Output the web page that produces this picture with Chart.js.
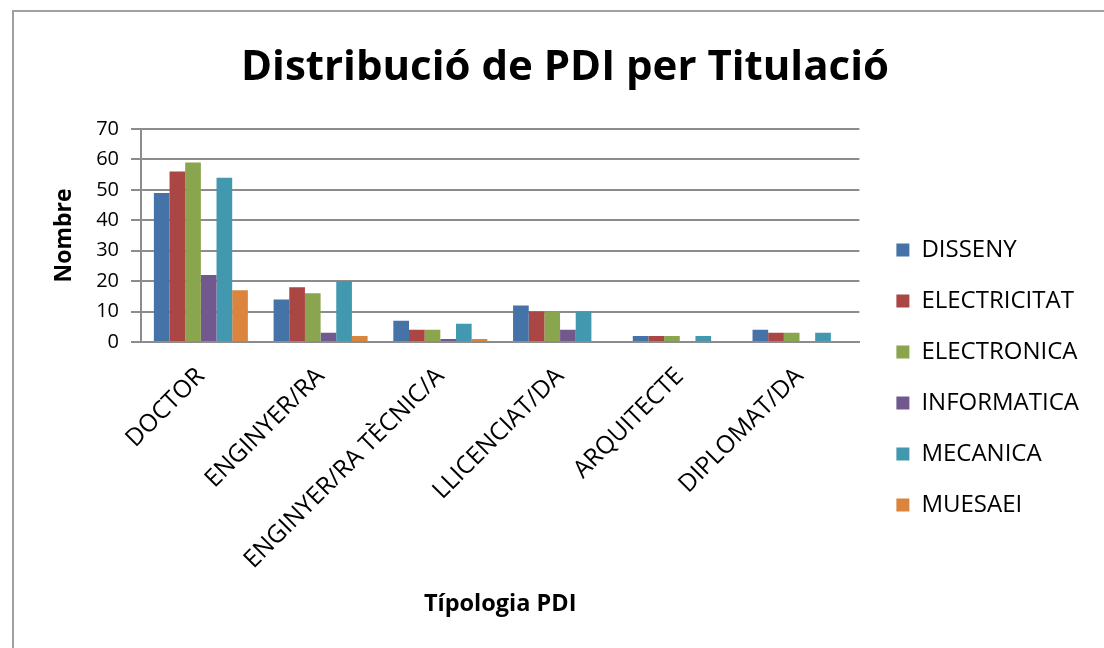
<!DOCTYPE html>
<html>
<head>
<meta charset="utf-8">
<script src="https://cdn.jsdelivr.net/npm/chart.js@4.4.0/dist/chart.umd.min.js"></script>
<style>
  html, body { margin: 0; padding: 0; background: #fff; }
  #frame { position: absolute; left: 12px; top: 10px; width: 1100px; height: 650px;
           border-left: 2px solid #a0a0a0; border-top: 2px solid #a0a0a0; }
  #wrap { position: absolute; left: 0; top: 0; width: 1104px; height: 648px; }
</style>
</head>
<body>
<div id="frame"></div>
<div id="wrap"><canvas id="pdiChart"></canvas></div>
<script>
const categories = ['DOCTOR', 'ENGINYER/RA', 'ENGINYER/RA TÈCNIC/A', 'LLICENCIAT/DA', 'ARQUITECTE', 'DIPLOMAT/DA'];
const disseny      = [49, 14, 7, 12, 2, 4];
const electricitat = [56, 18, 4, 10, 2, 3];
const electronica  = [59, 16, 4, 10, 2, 3];
const informatica  = [22, 3, 1, 4, 0, 0];
const mecanica     = [54, 20, 6, 10, 2, 3];
const muesaei      = [17, 2, 1, 0, 0, 0];
const yTicks = [0, 10, 20, 30, 40, 50, 60, 70];

const font = "'Open Sans', 'Noto Sans', sans-serif";

function serie(label, data, color) {
    return { label: label, data: data, backgroundColor: color, borderWidth: 0,
             barPercentage: 1.0, categoryPercentage: 0.785 };
}

const ctx = document.getElementById('pdiChart').getContext('2d');
new Chart(ctx, {
    type: 'bar',
    data: {
        labels: categories,
        datasets: [
            serie('DISSENY', disseny, '#4572A7'),
            serie('ELECTRICITAT', electricitat, '#AA4643'),
            serie('ELECTRONICA', electronica, '#89A54E'),
            serie('INFORMATICA', informatica, '#71588F'),
            serie('MECANICA', mecanica, '#4198AF'),
            serie('MUESAEI', muesaei, '#DB843D')
        ]
    },
    options: {
        responsive: true,
        maintainAspectRatio: false,
        animation: false,
        layout: { padding: { left: 41, right: 15, top: 0, bottom: 26 } },
        plugins: {
            title: {
                display: true,
                text: 'Distribució de PDI per Titulació',
                color: '#000',
                font: { family: font, size: 42, weight: 'bold' },
                padding: { top: 43, bottom: 35.6 }
            },
            legend: {
                position: 'right',
                align: 'start',
                fullSize: true,
                maxWidth: 240,
                // empty title only pushes the items down
                title: { display: true, text: '', font: { size: 10 }, padding: { top: 0, bottom: 199 } },
                labels: {
                    color: '#000',
                    font: { family: font, size: 24 },
                    boxWidth: 13, boxHeight: 13,
                    padding: 27
                }
            },
            tooltip: { enabled: false }
        },
        scales: {
            x: {
                grid: { display: false },
                border: { display: true, color: '#8c8c8c', width: 2 },
                ticks: { color: '#000', font: { family: font, size: 24.5 },
                         minRotation: 45, maxRotation: 45, padding: 12 },
                title: { display: true, text: 'Típologia PDI', color: '#000',
                         font: { family: font, size: 23.5, weight: 'bold' } },
                afterFit: s => { s.height = 280; }
            },
            y: {
                min: 0, max: 70,
                afterBuildTicks: s => { s.ticks = yTicks.map(v => ({ value: v })); },
                grid: { color: '#8c8c8c', lineWidth: 2, tickLength: 10, drawTicks: true },
                border: { display: true, color: '#8c8c8c', width: 2 },
                ticks: { color: '#000', font: { family: font, size: 20 }, padding: 12 },
                title: { display: true, text: 'Nombre', color: '#000',
                         font: { family: font, size: 23, weight: 'bold' }, padding: { top: 10, bottom: 0 } },
                afterFit: s => { s.width = 100; }
            },
            gap: {
                type: 'linear',
                position: 'right',
                ticks: { display: false },
                grid: { display: false },
                border: { display: false },
                afterFit: s => { s.width = 10; }
            }
        }
    }
});
</script>
</body>
</html>
